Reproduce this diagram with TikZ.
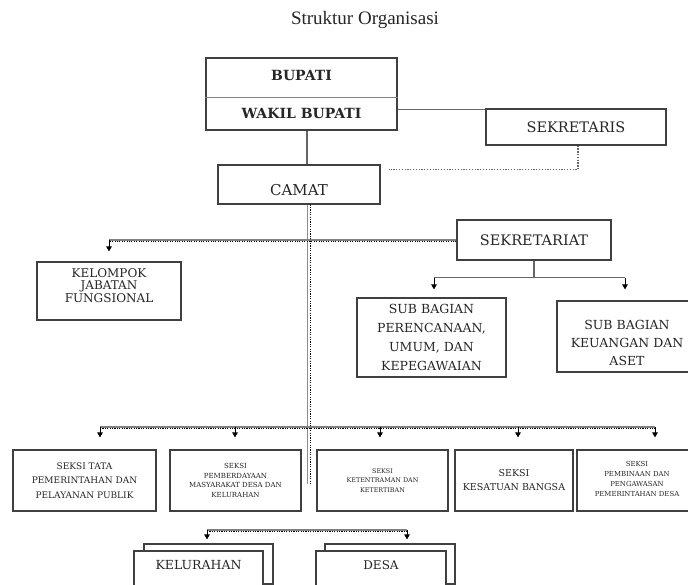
\documentclass[tikz,border=0pt]{standalone}
\usepackage{fontspec}
\setmainfont{DejaVu Serif}
\newfontfamily\titlefont{Liberation Serif}
\usetikzlibrary{arrows.meta,calc}
\begin{document}
\begin{tikzpicture}[x=1pt,y=-1pt,
  box/.style={draw=black!75, line width=1.2pt, fill=white, inner sep=0pt, align=center, text=black!85},
  txt/.style={inner sep=0pt, align=center, text=black!85},
  conn/.style={draw=black!60, line width=1.3pt},
  arr/.style={draw=black, line width=0.9pt, -{Triangle[length=5pt,width=5.5pt]}},
  hdbl/.style={draw=black!50, line width=1.3pt, postaction={draw=black, line width=1.2pt, dash pattern=on 1.1pt off 1.3pt, transform canvas={yshift=-1.8pt}}},
  vdbl/.style={draw=black!45, line width=1.2pt, postaction={draw=black, line width=1.2pt, dash pattern=on 1.1pt off 1.3pt, transform canvas={xshift=2.8pt}}},
  dotconn/.style={draw=black!60, line width=1.4pt, dash pattern=on 1.3pt off 1.5pt},
]
\clip (0,0) rectangle (688,584);
\fill[white] (0,0) rectangle (688,584);

% title
\node[txt, font=\titlefont\fontsize{19}{21}\selectfont] (title) at (365,20) {Struktur Organisasi};

% top boxes
\node[box, minimum width=191pt, minimum height=72pt] (bupati) at (301.5,94) {};
\draw[draw=black!50, line width=1pt] ($(bupati.west)+(0,3)$) -- ($(bupati.east)+(0,3)$);
\node[txt, font=\bfseries\fontsize{14}{16}\selectfont] (tbupati) at (301.5,75) {BUPATI};
\node[txt, font=\bfseries\fontsize{14}{16}\selectfont] (twakil) at (301.5,113) {WAKIL BUPATI};

\node[box, minimum width=180pt, minimum height=36pt, font=\fontsize{14.5}{16}\selectfont] (sekretaris) at (576,127) {SEKRETARIS};

\node[box, minimum width=162pt, minimum height=39pt] (camat) at (299,184.5) {};
\node[txt, font=\fontsize{15}{16}\selectfont] (tcamat) at (299,190) {CAMAT};

\node[box, minimum width=154pt, minimum height=40pt, font=\fontsize{14.5}{16}\selectfont] (sekretariat) at (534,240) {SEKRETARIAT};

\node[box, minimum width=144pt, minimum height=58pt] (kelompok) at (109,291) {};
\node[txt, font=\fontsize{12}{12.5}\selectfont] (tkelompok) at (109,285.5) {KELOMPOK\\JABATAN\\FUNGSIONAL};

\node[box, minimum width=149pt, minimum height=79pt, font=\fontsize{12.5}{19}\selectfont] (subrenc) at (431.5,337.5) {SUB BAGIAN\\PERENCANAAN,\\UMUM, DAN\\KEPEGAWAIAN};

\node[box, minimum width=133pt, minimum height=71pt] (subkeu) at (623.5,336.5) {};
\node[txt, font=\fontsize{12.5}{18}\selectfont] (tsubkeu) at (627,343) {SUB BAGIAN\\KEUANGAN DAN\\ASET};

% seksi
\node[box, minimum width=143pt, minimum height=61pt, font=\fontsize{9}{14.5}\selectfont] (s1) at (84.5,480.5) {SEKSI TATA\\PEMERINTAHAN DAN\\PELAYANAN PUBLIK};
\node[box, minimum width=131pt, minimum height=61pt, font=\fontsize{7}{9.7}\selectfont] (s2) at (235.5,480.5) {SEKSI\\PEMBERDAYAAN\\MASYARAKAT DESA DAN\\KELURAHAN};
\node[box, minimum width=131pt, minimum height=61pt, font=\fontsize{6.4}{9.5}\selectfont] (s3) at (382.5,480.5) {SEKSI\\KETENTRAMAN DAN\\KETERTIBAN};
\node[box, minimum width=118pt, minimum height=61pt, font=\fontsize{9.5}{14}\selectfont] (s4) at (514,480.5) {SEKSI\\KESATUAN BANGSA};
\node[box, minimum width=113pt, minimum height=61pt] (s5) at (633.5,480.5) {};
\node[txt, font=\fontsize{6.9}{10.3}\selectfont] (ts5) at (637,479) {SEKSI\\PEMBINAAN DAN\\PENGAWASAN\\PEMERINTAHAN DESA};

% kelurahan / desa (stacked)
\node[box, minimum width=129pt, minimum height=40pt] (kelback) at (208.5,564) {};
\node[box, minimum width=129pt, minimum height=40pt] (kelurahan) at (198.5,571) {};
\node[txt, font=\fontsize{12.5}{14}\selectfont] (tkel) at (198.5,565) {KELURAHAN};
\node[box, minimum width=130pt, minimum height=40pt] (desaback) at (390,564) {};
\node[box, minimum width=130pt, minimum height=40pt] (desa) at (381,571) {};
\node[txt, font=\fontsize{12}{14}\selectfont] (tdesa) at (381,565) {DESA};

% connectors
\coordinate (sbar) at (0,427);
\coordinate (kbar) at (0,530);

\draw[conn] ($(bupati.north east)+(0,52)$) coordinate (b1) -- (b1 -| sekretaris.west);
\draw[conn] ($(bupati.south)+(5.5,0)$) -- ($(camat.north)+(8,0)$);
\draw[dotconn] ($(sekretaris.south)+(2,0)$) |- ($(camat.north east)+(8,5)$);
\draw[vdbl] ($(camat.south)+(8.5,0)$) -- ($(camat.south)+(8.5,279)$);

\draw[hdbl] (sekretariat.west) -- (sekretariat.west -| kelompok.north);
\draw[arr, shorten >=10pt] (sekretariat.west -| kelompok.north) -- (kelompok.north);

\draw[conn] (sekretariat.south) -- ($(sekretariat.south)+(0,17)$) coordinate (sb);
\draw[conn] ($(sb -| subrenc.north)+(2.5,0)$) -- ($(sb -| subkeu.north)+(1.5,0)$);
\draw[arr, shorten >=8pt] ($(sb -| subrenc.north)+(2.5,0)$) -- ($(subrenc.north)+(2.5,0)$);
\draw[arr, shorten >=11pt] ($(sb -| subkeu.north)+(1.5,0)$) -- ($(subkeu.north)+(1.5,0)$);

\draw[hdbl] ($(sbar -| s1.north)+(15.5,0)$) -- ($(sbar -| s5.north)+(21.5,0)$);
\foreach \n/\d in {s1/15.5, s2/-0.5, s3/-2.5, s4/4, s5/21.5}
  \draw[arr, shorten >=12pt] ($(sbar -| \n.north)+(\d,0)$) -- ($(\n.north)+(\d,0)$);

\draw[hdbl] ($(kbar -| kelback.north)+(-1.5,0)$) -- ($(kbar -| desaback.north)+(17,0)$);
\draw[arr, shorten >=4pt] ($(kbar -| kelback.north)+(-1.5,0)$) -- ($(kelback.north)+(-1.5,0)$);
\draw[arr, shorten >=4pt] ($(kbar -| desaback.north)+(17,0)$) -- ($(desaback.north)+(17,0)$);
\end{tikzpicture}
\end{document}
